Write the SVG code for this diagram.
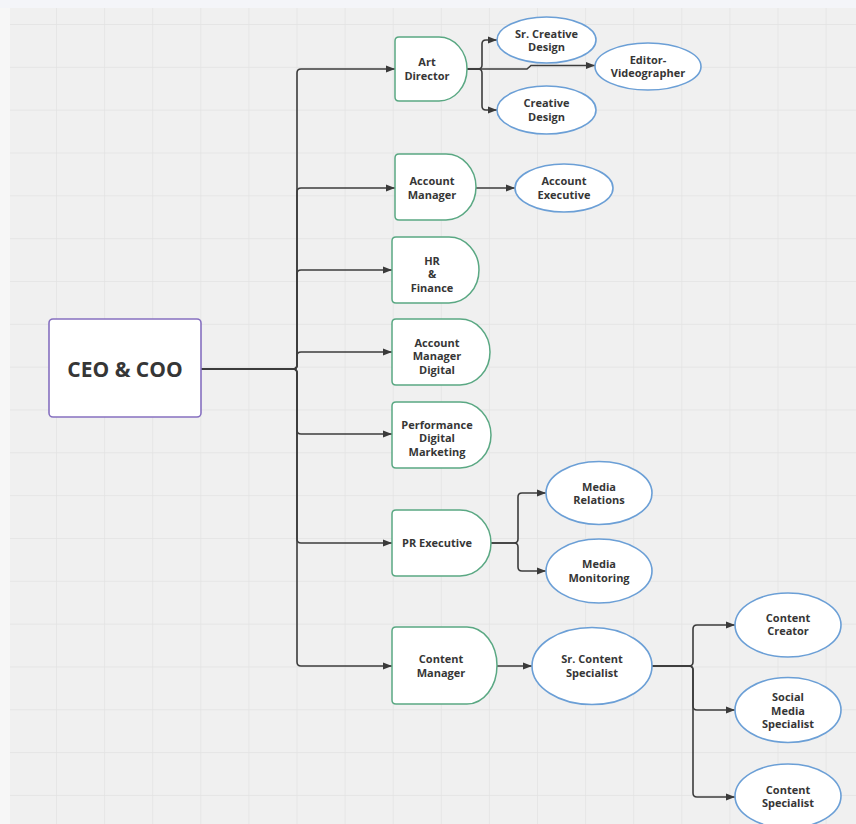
<svg xmlns="http://www.w3.org/2000/svg" width="856" height="824" viewBox="0 0 856 824">
  <defs>
    <pattern id="grid" x="7.9" y="24" width="48.1" height="42.83" patternUnits="userSpaceOnUse">
      <path d="M0,0 H48.1 M0,0 V42.83" fill="none" stroke="#e2e2e2" stroke-width="1.4"/>
    </pattern>
    <marker id="arr" viewBox="0 0 10 10" refX="10" refY="5" markerWidth="9" markerHeight="9" markerUnits="userSpaceOnUse" orient="auto">
      <path d="M0,1 L10,5 L0,9 Z" fill="#3a3a3a"/>
    </marker>
  </defs>
  <style>
    .conn { fill: none; stroke: #3c3c3c; stroke-width: 1.6; marker-end: url(#arr); }
    .green { fill: #ffffff; stroke: #5aa883; stroke-width: 1.5; }
    .blue { fill: #ffffff; stroke: #6b9fd6; stroke-width: 1.6; }
    .ceo { fill: #ffffff; stroke: #8670c0; stroke-width: 1.6; }
    text { font-family: "Open Sans", "Liberation Sans", sans-serif; font-weight: bold; font-size: 11px; fill: #363636; text-anchor: middle; }
    .big { font-size: 21px; }
  </style>

  <!-- background -->
  <rect x="0" y="0" width="856" height="824" fill="#f7f7f7"/>
  <rect x="10" y="8" width="846" height="816" fill="#f0f0f0"/>
  <rect x="10" y="8" width="846" height="816" fill="url(#grid)"/>
  <rect x="0" y="0" width="856" height="8" fill="#f4f5f9"/>

  <!-- connectors -->
  <g id="connectors">
    <path class="conn" d="M201,369 H293 Q297,369 297,365 V73 Q297,69 301,69 H395"/>
    <path class="conn" d="M201,369 H293 Q297,369 297,365 V192 Q297,188 301,188 H395"/>
    <path class="conn" d="M201,369 H293 Q297,369 297,365 V274 Q297,270 301,270 H392"/>
    <path class="conn" d="M201,369 H293 Q297,369 297,365 V356 Q297,352 301,352 H392"/>
    <path class="conn" d="M201,369 H293 Q297,369 297,373 V430 Q297,434 301,434 H392"/>
    <path class="conn" d="M201,369 H293 Q297,369 297,373 V539 Q297,543 301,543 H392"/>
    <path class="conn" d="M201,369 H293 Q297,369 297,373 V662 Q297,666 301,666 H392"/>

    <path class="conn" d="M467,69 H478 Q482,69 482,65 V44 Q482,40 486,40 H497"/>
    <path class="conn" d="M467,69 H478 Q482,69 482,73 V106 Q482,110 486,110 H497"/>
    <path class="conn" d="M467,69 H527 L531,65.5 H595"/>

    <path class="conn" d="M476,188 H515"/>

    <path class="conn" d="M491,543 H514 Q518,543 518,539 V497 Q518,493 522,493 H546"/>
    <path class="conn" d="M491,543 H514 Q518,543 518,547 V567 Q518,571 522,571 H546"/>

    <path class="conn" d="M497,666 H532"/>

    <path class="conn" d="M652,666 H689 Q693,666 693,662 V629 Q693,625 697,625 H735"/>
    <path class="conn" d="M652,666 H689 Q693,666 693,670 V706 Q693,710 697,710 H735"/>
    <path class="conn" d="M652,666 H689 Q693,666 693,670 V793 Q693,797 697,797 H735"/>
  </g>

  <!-- CEO -->
  <g id="ceo">
    <rect class="ceo" x="49" y="319" width="152" height="98" rx="4"/>
    <text class="big" x="125" y="376.5">CEO &amp; COO</text>
  </g>

  <!-- green nodes -->
  <g id="art-director">
    <path class="green" d="M399,37 H439 A28,32 0 0 1 439,101 H399 Q395,101 395,97 V41 Q395,37 399,37 Z"/>
    <text x="427"><tspan x="427" y="66">Art</tspan><tspan x="427" y="79.5">Director</tspan></text>
  </g>
  <g id="account-manager">
    <path class="green" d="M399,154 H446 A30,33 0 0 1 446,220 H399 Q395,220 395,216 V158 Q395,154 399,154 Z"/>
    <text x="432"><tspan x="432" y="185">Account</tspan><tspan x="432" y="198.5">Manager</tspan></text>
  </g>
  <g id="hr-finance">
    <path class="green" d="M396,237 H449 A30,33 0 0 1 449,303 H396 Q392,303 392,299 V241 Q392,237 396,237 Z"/>
    <text x="432"><tspan x="432" y="264.5">HR</tspan><tspan x="432" y="278">&amp;</tspan><tspan x="432" y="291.5">Finance</tspan></text>
  </g>
  <g id="account-manager-digital">
    <path class="green" d="M396,319 H460 A30,33 0 0 1 460,385 H396 Q392,385 392,381 V323 Q392,319 396,319 Z"/>
    <text x="437"><tspan x="437" y="346.5">Account</tspan><tspan x="437" y="360">Manager</tspan><tspan x="437" y="373.5">Digital</tspan></text>
  </g>
  <g id="performance-digital-marketing">
    <path class="green" d="M396,402 H460 A31,33 0 0 1 460,468 H396 Q392,468 392,464 V406 Q392,402 396,402 Z"/>
    <text x="437"><tspan x="437" y="428.5">Performance</tspan><tspan x="437" y="442">Digital</tspan><tspan x="437" y="455.5">Marketing</tspan></text>
  </g>
  <g id="pr-executive">
    <path class="green" d="M396,510 H460 A31,33 0 0 1 460,576 H396 Q392,576 392,572 V514 Q392,510 396,510 Z"/>
    <text x="437" y="547">PR Executive</text>
  </g>
  <g id="content-manager">
    <path class="green" d="M396,627 H467 A30,38.5 0 0 1 467,704 H396 Q392,704 392,700 V631 Q392,627 396,627 Z"/>
    <text x="441"><tspan x="441" y="663">Content</tspan><tspan x="441" y="676.5">Manager</tspan></text>
  </g>

  <!-- blue ellipse nodes -->
  <g id="sr-creative-design">
    <ellipse class="blue" cx="546.5" cy="40" rx="49.5" ry="23"/>
    <text x="546.5"><tspan x="546.5" y="37.5">Sr. Creative</tspan><tspan x="546.5" y="51">Design</tspan></text>
  </g>
  <g id="editor-videographer">
    <ellipse class="blue" cx="648" cy="66.5" rx="53" ry="23.5"/>
    <text x="648"><tspan x="648" y="63.5">Editor-</tspan><tspan x="648" y="77">Videographer</tspan></text>
  </g>
  <g id="creative-design">
    <ellipse class="blue" cx="546.5" cy="110" rx="49.5" ry="24"/>
    <text x="546.5"><tspan x="546.5" y="107">Creative</tspan><tspan x="546.5" y="120.5">Design</tspan></text>
  </g>
  <g id="account-executive">
    <ellipse class="blue" cx="564" cy="188" rx="49" ry="24"/>
    <text x="564"><tspan x="564" y="185">Account</tspan><tspan x="564" y="198.5">Executive</tspan></text>
  </g>
  <g id="media-relations">
    <ellipse class="blue" cx="599" cy="493" rx="53" ry="31.5"/>
    <text x="599"><tspan x="599" y="490.5">Media</tspan><tspan x="599" y="504">Relations</tspan></text>
  </g>
  <g id="media-monitoring">
    <ellipse class="blue" cx="599" cy="571" rx="53" ry="32"/>
    <text x="599"><tspan x="599" y="568">Media</tspan><tspan x="599" y="581.5">Monitoring</tspan></text>
  </g>
  <g id="sr-content-specialist">
    <ellipse class="blue" cx="592" cy="666" rx="60" ry="38.5"/>
    <text x="592"><tspan x="592" y="663">Sr. Content</tspan><tspan x="592" y="676.5">Specialist</tspan></text>
  </g>
  <g id="content-creator">
    <ellipse class="blue" cx="788" cy="625" rx="53" ry="32"/>
    <text x="788"><tspan x="788" y="621.5">Content</tspan><tspan x="788" y="635">Creator</tspan></text>
  </g>
  <g id="social-media-specialist">
    <ellipse class="blue" cx="788" cy="710" rx="53" ry="32.5"/>
    <text x="788"><tspan x="788" y="701">Social</tspan><tspan x="788" y="714.5">Media</tspan><tspan x="788" y="728">Specialist</tspan></text>
  </g>
  <g id="content-specialist">
    <ellipse class="blue" cx="788" cy="796" rx="53" ry="32"/>
    <text x="788"><tspan x="788" y="793.5">Content</tspan><tspan x="788" y="807">Specialist</tspan></text>
  </g>
</svg>
